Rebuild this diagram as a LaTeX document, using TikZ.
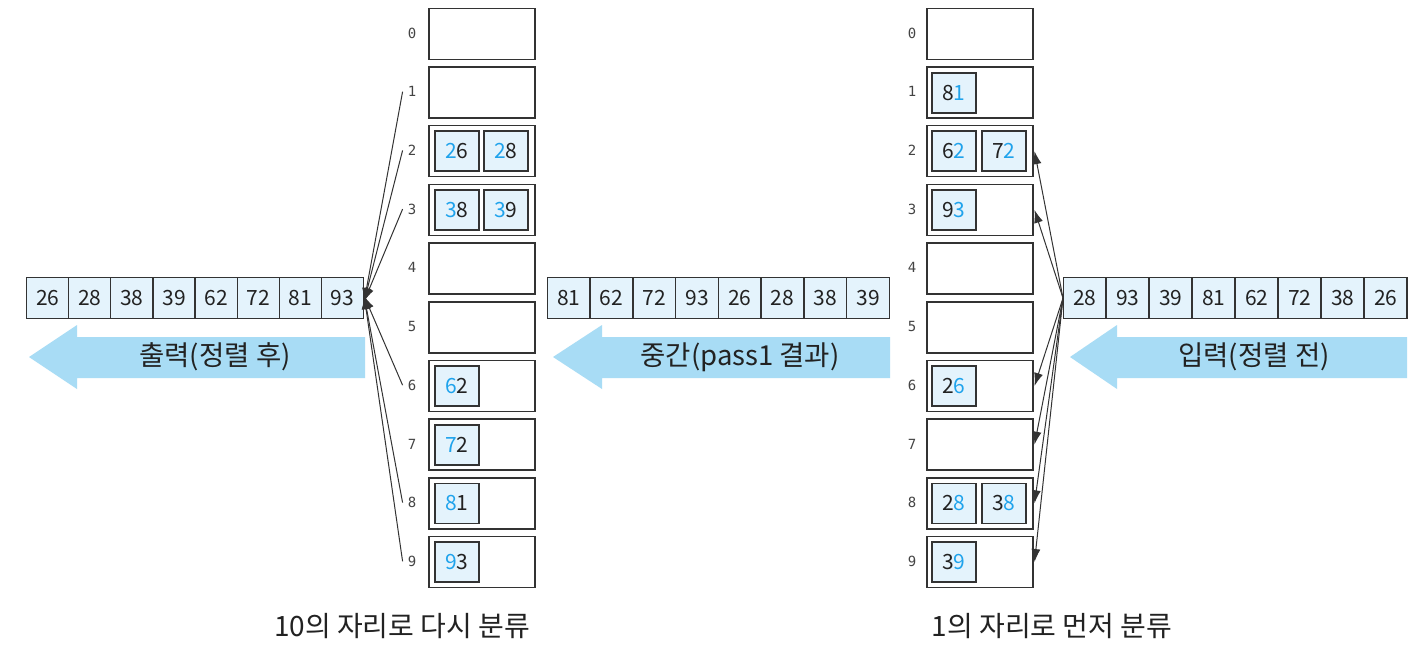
\documentclass[tikz,border=0pt]{standalone}
\usepackage{fontspec}
\setmainfont{Noto Sans CJK KR}
\newfontfamily\monof{DejaVu Sans Mono}
\usetikzlibrary{arrows.meta}
\definecolor{cellfill}{HTML}{E4F3FC}
\definecolor{bigarrow}{HTML}{A8DCF5}
\definecolor{hl}{HTML}{1FA3EC}
\definecolor{txt}{HTML}{222222}
\definecolor{edge}{HTML}{333333}
\definecolor{lbl}{HTML}{444444}
\begin{document}
\begin{tikzpicture}[x=1pt,y=-1pt,
  cell/.style={draw=edge, line width=1.2pt, fill=cellfill, minimum width=42.3pt, minimum height=41pt, inner sep=0pt, anchor=north west, font=\fontsize{21}{21}\selectfont, text=txt},
  bucket/.style={draw=edge, line width=1.5pt, minimum width=106pt, minimum height=51pt, anchor=north west, inner sep=0pt},
  item/.style={draw=edge, line width=1.8pt, fill=cellfill, minimum width=44pt, minimum height=40pt, inner sep=0pt, anchor=north west, font=\fontsize{21}{21}\selectfont, text=txt},
  blabel/.style={font=\monof\fontsize{14}{14}\selectfont, text=lbl, inner sep=5pt},
  link/.style={draw=edge, line width=1pt, -{Latex[length=13pt,width=9pt]}},
  bigarr/.style={fill=bigarrow, draw=none},
  arrtext/.style={font=\fontsize{27.5}{27.5}\selectfont, text=txt},
  caption/.style={font=\fontsize{28}{28}\selectfont, text=txt}
]
\useasboundingbox (0,0) rectangle (1420,648);
\fill[white] (0,0) rectangle (1420,648);

% arrays
\foreach \v [count=\i] in {26,28,38,39,62,72,81,93}
  \node[cell] (L\i) at ({26+42.1*(\i-1)},277) {\v};
\foreach \v [count=\i] in {81,62,72,93,26,28,38,39}
  \node[cell] (M\i) at ({547+42.75*(\i-1)},277) {\v};
\foreach \v [count=\i] in {28,93,39,81,62,72,38,26}
  \node[cell] (R\i) at ({1063+43*(\i-1)},277) {\v};

% big arrows
\fill[bigarr] (29,357) -- (77,325) -- (77,337) -- (365,337) -- (365,378) -- (77,378) -- (77,389) -- cycle;
\fill[bigarr] (553,357) -- (602,325) -- (602,337) -- (890,337) -- (890,378) -- (602,378) -- (602,389) -- cycle;
\fill[bigarr] (1070,357) -- (1117,325) -- (1117,337) -- (1407,337) -- (1407,378) -- (1117,378) -- (1117,389) -- cycle;
\node[arrtext] (tL) at (215,357) {출력(정렬 후)};
\node[arrtext] (tM) at (740,357) {중간(pass1 결과)};
\node[arrtext] (tR) at (1254,357) {입력(정렬 전)};

% bucket columns
\foreach \k in {0,...,9} {
  \node[bucket] (LB\k) at (428,{7.5+58.7*\k}) {};
  \node[blabel] (LL\k) at (412,{33+58.7*\k}) {\k};
  \node[bucket] (RB\k) at (926,{7.5+58.7*\k}) {};
  \node[blabel] (RL\k) at (912,{33+58.7*\k}) {\k};
}

% left column items (tens digit highlighted)
\node[item] (l2a) at (434,{13+58.7*2}) {\textcolor{hl}{2}6};
\node[item] (l2b) at (483,{13+58.7*2}) {\textcolor{hl}{2}8};
\node[item] (l3a) at (434,{13+58.7*3}) {\textcolor{hl}{3}8};
\node[item] (l3b) at (483,{13+58.7*3}) {\textcolor{hl}{3}9};
\node[item] (l6a) at (434,{13+58.7*6}) {\textcolor{hl}{6}2};
\node[item] (l7a) at (434,{13+58.7*7}) {\textcolor{hl}{7}2};
\node[item] (l8a) at (434,{13+58.7*8}) {\textcolor{hl}{8}1};
\node[item] (l9a) at (434,{13+58.7*9}) {\textcolor{hl}{9}3};

% right column items (ones digit highlighted)
\node[item] (r1a) at (931,{13+58.7*1}) {8\textcolor{hl}{1}};
\node[item] (r2a) at (931,{13+58.7*2}) {6\textcolor{hl}{2}};
\node[item] (r2b) at (981,{13+58.7*2}) {7\textcolor{hl}{2}};
\node[item] (r3a) at (931,{13+58.7*3}) {9\textcolor{hl}{3}};
\node[item] (r6a) at (931,{13+58.7*6}) {2\textcolor{hl}{6}};
\node[item] (r8a) at (931,{13+58.7*8}) {2\textcolor{hl}{8}};
\node[item] (r8b) at (981,{13+58.7*8}) {3\textcolor{hl}{8}};
\node[item] (r9a) at (931,{13+58.7*9}) {3\textcolor{hl}{9}};

% connectors: left (buckets -> output)
\foreach \k in {1,2,3} \draw[link] (LL\k.west) -- ([yshift=-3pt]L8.east);
\foreach \k in {6,8,9} \draw[link] (LL\k.west) -- ([yshift=2pt]L8.east);

% connectors: right (input -> buckets)
\foreach \k in {2,3,6,7,8,9} \draw[link] (R1.west) -- ([xshift=1pt]RB\k.east);

% captions
\node[caption] (c1) at (402,626) {10의 자리로 다시 분류};
\node[caption] (c2) at (1052,626) {1의 자리로 먼저 분류};
\end{tikzpicture}
\end{document}
